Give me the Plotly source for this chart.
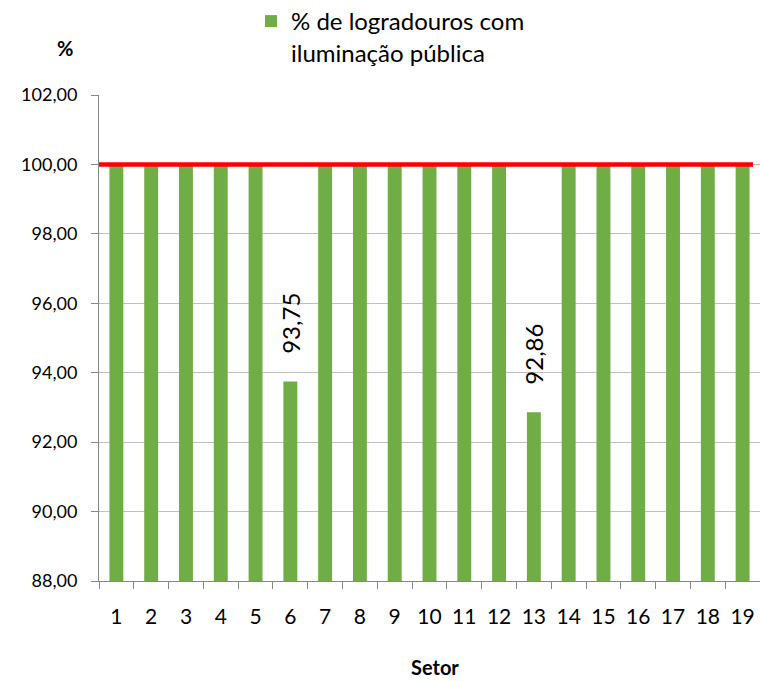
import plotly.graph_objects as go

setores = [str(i) for i in range(1, 20)]
valores = [100, 100, 100, 100, 100, 93.75, 100, 100, 100, 100, 100, 100, 92.86,
           100, 100, 100, 100, 100, 100]
meta = 100
serie_nome = "% de logradouros com<br>iluminação pública"
y_ticks = [88, 90, 92, 94, 96, 98, 100, 102]

rotulos = ["" if v == 100 else "\u00a0" * 4 + f"{v:.2f}".replace(".", ",") for v in valores]

FONT = "Lato, Carlito, Calibri, sans-serif"

L, R, T, B = 99, 0, 95, 100
W, H = 760, 681
PW, PH = W - L - R, H - T - B

fig = go.Figure()
fig.add_trace(go.Bar(
    x=setores, y=valores, name=serie_nome,
    marker=dict(color="#70AD47", line=dict(width=0)),
    width=0.4,
    text=rotulos, textposition="outside", textangle=-90,
    constraintext="none", cliponaxis=False,
    textfont=dict(size=24, color="#000", family=FONT),
))
fig.add_trace(go.Scatter(
    x=[0, 1], y=[meta, meta], xaxis="x2", mode="lines", cliponaxis=False,
    line=dict(color="#FF0000", width=4.5), showlegend=False, hoverinfo="skip",
))

fig.update_layout(
    width=W, height=H,
    margin=dict(l=L, r=R, t=T, b=B, autoexpand=False),
    paper_bgcolor="white", plot_bgcolor="white",
    separators=", ",
    font=dict(family=FONT, color="#000"),
    showlegend=True,
    legend=dict(x=(251 - L) / PW, y=1 + (T + 1) / PH, xanchor="left", yanchor="top",
                font=dict(size=24, family=FONT), valign="top",
                itemwidth=30, bgcolor="rgba(0,0,0,0)"),
    xaxis=dict(type="category", tickson="boundaries", ticks="outside", ticklen=7,
               tickcolor="#868686", showline=True, linecolor="#868686", linewidth=1,
               showgrid=False, tickfont=dict(size=21), ticklabelstandoff=17,
               range=[-0.5, 18.5]),
    xaxis2=dict(overlaying="x", range=[0.00954, 1.0106], visible=False),
    yaxis=dict(range=[88, 102], tickvals=y_ticks, tickformat=".2f",
               showgrid=True, gridcolor="#C0C0C0", gridwidth=1,
               showline=True, linecolor="#868686", linewidth=1,
               ticks="outside", ticklen=7, tickcolor="#868686",
               tickfont=dict(size=18), ticklabelstandoff=10, zeroline=False),
    annotations=[
        dict(text="<b>%</b>", x=(65 - L) / PW, y=1 + (T - 48) / PH,
             xref="paper", yref="paper", xanchor="center", yanchor="middle",
             showarrow=False, font=dict(size=20)),
        dict(text="<b>Setor</b>", x=(435 - L) / PW, y=-(667 - (H - B)) / PH,
             xref="paper", yref="paper", xanchor="center", yanchor="middle",
             showarrow=False, font=dict(size=20)),
    ],
)

fig.write_html("out.html", config={"displayModeBar": False},
               post_script="document.body.style.margin='0';document.body.style.overflow='hidden';")
